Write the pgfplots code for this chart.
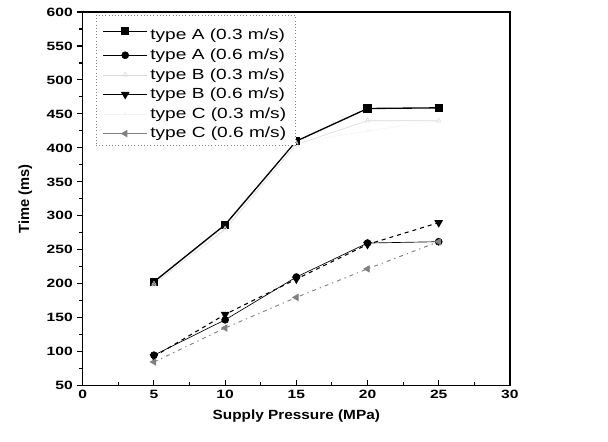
\documentclass[border=0pt]{standalone}
\usepackage{pgfplots}
\pgfplotsset{compat=1.18}
\usepackage{fontspec}
\setmainfont{Liberation Sans}
\newfontfamily\wideA{Liberation Sans}[FakeStretch=1.3]
\newfontfamily\wideB{Liberation Sans}[FakeStretch=1.15]
\begin{document}
\begin{tikzpicture}
\begin{axis}[
  name=ax,
  scale only axis,
  width=320pt, height=280pt,
  xmin=0, xmax=30, ymin=50, ymax=600,
  xtick={0,5,...,30}, ytick={50,100,...,600},
  minor x tick num=1, minor y tick num=1,
  xtick pos=bottom, ytick pos=left,
  xtick align=inside, ytick align=outside,
  major tick length=4pt, minor tick length=2.5pt,
  axis line style={line width=1pt},
  tick style={line width=0.8pt, black},
  /pgf/number format/assume math mode=true,
  ticklabel style={font=\wideA\bfseries\fontsize{9}{11}\selectfont},
  xlabel={\wideB\bfseries Supply Pressure (MPa)},
  ylabel={\bfseries Time (ms)},
  xlabel style={font=\fontsize{10}{12}\selectfont, yshift=-1pt},
  ylabel style={font=\fontsize{11}{13}\selectfont, yshift=4pt},
  legend style={at={(axis description cs:0,1)}, anchor=north west,
    xshift=9.75pt, yshift=-2.25pt, draw=gray, dotted,
    font=\wideA\fontsize{11}{13}\selectfont, row sep=1.2pt, inner ysep=2pt, inner xsep=5pt,
    /tikz/every even column/.append style={column sep=2pt}},
  legend cell align=left,
  legend image post style={solid},
  legend image code/.code={\draw[mark repeat=2,mark phase=2] plot coordinates {(0cm,0cm) (0.575cm,0cm) (1.15cm,0cm)};},
]
\addplot[black, line width=1pt, mark=square*, mark size=2.6pt] coordinates {(5,203) (10,287) (15,410) (20,458) (25,459)};
\addlegendentry{\rule{0pt}{14.5pt}type A (0.3 m/s)}
\addplot[black, line width=0.5pt, mark=*, mark size=2.6pt] coordinates {(5,95) (10,147) (15,210) (20,260) (25,262)};
\addlegendentry{type A (0.6 m/s)}
\addplot[gray!30, line width=0.4pt, mark=triangle, mark size=2pt] coordinates {(5,200) (10,280) (15,405) (20,440) (25,440)};
\addlegendentry{type B (0.3 m/s)}
\addplot[black, line width=0.8pt, dashed, mark=triangle*, mark options={solid, rotate=180}, mark size=3pt] coordinates {(5,93) (10,155) (15,207) (20,258) (25,290)};
\addlegendentry{type B (0.6 m/s)}
\addplot[gray!10, line width=0.3pt, mark=triangle, mark size=1.5pt] coordinates {(5,198) (10,282) (15,408) (20,425) (25,440)};
\addlegendentry{type C (0.3 m/s)}
\addplot[gray, line width=0.7pt, dash pattern=on 3pt off 3pt on 1pt off 3pt, mark=triangle*, mark options={solid, rotate=90}, mark size=2.6pt] coordinates {(5,85) (10,135) (15,180) (20,222) (25,262)};
\addlegendentry{type C (0.6 m/s)}
\end{axis}
\path ([shift={(-62pt,-42pt)}]ax.south west) rectangle ([shift={(73.5pt,9pt)}]ax.north east);
\end{tikzpicture}
\end{document}
